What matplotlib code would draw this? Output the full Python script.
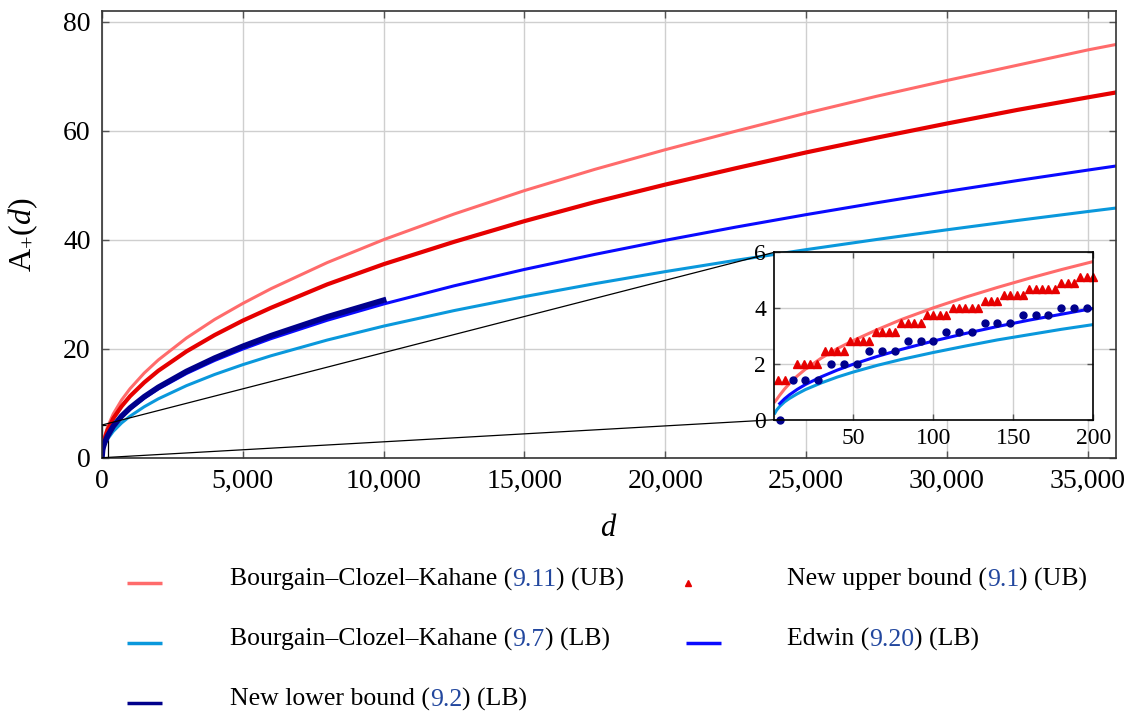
import matplotlib
matplotlib.use("Agg")
import matplotlib.pyplot as plt
from mpl_toolkits.axes_grid1.inset_locator import mark_inset

plt.rcParams['font.family'] = ['Liberation Serif', 'DejaVu Serif']
plt.rcParams['mathtext.fontset'] = 'custom'
plt.rcParams['mathtext.rm'] = 'Liberation Serif'
plt.rcParams['mathtext.it'] = 'Liberation Serif:italic'

# main plot: values
d_main = [0, 25, 50, 100, 200, 400, 700, 1000, 1500, 2000, 3000, 4000, 5000, 6000,
          8000, 10000, 12500, 15000, 17500, 20000, 22500, 25000, 27500, 30000,
          32500, 35000, 36000]
bck_ub = [0.5, 2.0, 2.84, 4.01, 5.67, 8.02, 10.61, 12.68, 15.53, 17.93, 21.96, 25.36,
          28.3, 31.0, 35.8, 40.0, 44.7, 49.0, 52.9, 56.5, 59.9, 63.2, 66.3,
          69.2, 72.0, 74.8, 75.8]
new_ub = [1.41, 1.79, 2.53, 3.58, 5.1, 7.2, 9.45, 11.3, 13.8, 15.95, 19.5, 22.5,
          25.15, 27.5, 31.8, 35.5, 39.6, 43.4, 46.9, 50.1, 53.1, 56.0, 58.7,
          61.3, 63.8, 66.1, 67.0]
bck_lb = [0.0, 1.21, 1.71, 2.41, 3.41, 4.83, 6.39, 7.63, 9.35, 10.80, 13.22, 15.27,
          17.07, 18.70, 21.59, 24.14, 26.99, 29.56, 31.93, 34.14, 36.21, 38.17, 40.03,
          41.81, 43.52, 45.16, 45.80]
edwin_lb = [None, 1.41, 1.99, 2.82, 3.99, 5.64, 7.46, 8.92, 10.92, 12.61, 15.45, 17.84,
            19.94, 21.84, 25.22, 28.20, 31.53, 34.54, 37.30, 39.88, 42.30, 44.59, 46.76,
            48.85, 50.84, 52.76, 53.51]
d_newlb = [0, 25, 50, 100, 200, 400, 700, 1000, 1500, 2000, 3000, 4000, 5000, 6000,
           8000, 10000]
new_lb = [0.0, 1.41, 2.0, 2.83, 4.0, 5.78, 7.65, 9.14, 11.19, 12.92, 15.83, 18.28,
          20.44, 22.39, 25.85, 28.9]

# inset: d from 1 to 200
d_zoom = [1, 2, 4, 7, 10, 15, 20, 30, 40, 50, 65, 80, 100, 120, 140, 160, 180, 200]
bck_ub_zoom = [0.65, 0.72, 0.88, 1.1, 1.29, 1.57, 1.81, 2.21, 2.55, 2.84, 3.23, 3.59,
               4.01, 4.39, 4.74, 5.07, 5.38, 5.67]
bck_lb_zoom = [0.24, 0.34, 0.48, 0.64, 0.76, 0.93, 1.08, 1.32, 1.53, 1.71, 1.95, 2.16,
               2.41, 2.64, 2.86, 3.05, 3.24, 3.41]
d_edwin_zoom = [4, 7, 10, 15, 20, 30, 40, 50, 65, 80, 100, 120, 140, 160, 180, 200]
edwin_zoom = [0.58, 0.75, 0.89, 1.09, 1.26, 1.54, 1.78, 1.99, 2.27, 2.52, 2.82, 3.09,
              3.34, 3.57, 3.78, 3.99]
d_ub_pts = [3, 7, 15, 19, 23, 27, 32, 36, 40, 44, 48, 52, 56, 60, 64, 68, 72, 76, 80,
            84, 88, 92, 96, 100, 104, 108, 112, 116, 120, 124, 128, 132, 136, 140, 144,
            148, 152, 156, 160, 164, 168, 172, 176, 180, 184, 188, 192, 196, 200]
ub_pts = [1.41, 1.41, 2.0, 2.0, 2.0, 2.0, 2.45, 2.45, 2.45, 2.45, 2.83, 2.83, 2.83, 2.83,
          3.16, 3.16, 3.16, 3.16, 3.46, 3.46, 3.46, 3.46, 3.74, 3.74, 3.74, 3.74,
          4.0, 4.0, 4.0, 4.0, 4.0, 4.24, 4.24, 4.24, 4.47, 4.47, 4.47, 4.47,
          4.69, 4.69, 4.69, 4.69, 4.69, 4.90, 4.90, 4.90, 5.10, 5.10, 5.10]
d_lb_pts = [4, 12, 20, 28, 36, 44, 52, 60, 68, 76, 84, 92, 100, 108, 116, 124, 132,
            140, 148, 156, 164, 172, 180, 188, 196]
lb_pts = [0.0, 1.41, 1.41, 1.41, 2.0, 2.0, 2.0, 2.45, 2.45, 2.45, 2.83, 2.83, 2.83,
          3.16, 3.16, 3.16, 3.46, 3.46, 3.46, 3.74, 3.74, 3.74, 4.0, 4.0, 4.0]

x_ticks = [0, 5000, 10000, 15000, 20000, 25000, 30000, 35000]
x_ticklabels = ["0", "5,000", "10,000", "15,000", "20,000", "25,000", "30,000", "35,000"]
y_ticks = [0, 20, 40, 60, 80]

c_pink = '#ff6b6b'
c_red = '#e60000'
c_cyan = '#0a98dc'
c_blue = '#0a0aff'
c_navy = '#00008c'
c_link = '#22479e'

fig = plt.figure(figsize=(11.34, 7.17), dpi=100)
ax = fig.add_axes([0.0899, 0.3616, 0.8942, 0.6235])

ax.plot(d_main, bck_ub, color=c_pink, lw=2.2)
ax.plot(d_main, new_ub, color=c_red, lw=3.0)
ax.plot(d_main, bck_lb, color=c_cyan, lw=2.2)
ax.plot(d_main, edwin_lb, color=c_blue, lw=2.2)
ax.plot(d_newlb, new_lb, color=c_navy, lw=4)

ax.set_xlim(0, 36000)
ax.set_ylim(0, 82)
ax.set_xticks(x_ticks)
ax.set_xticklabels(x_ticklabels)
ax.set_yticks(y_ticks)
ax.grid(True, color='#cfcfcf', lw=1)
ax.set_axisbelow(True)
ax.tick_params(direction='in', top=True, right=True, length=5, width=1,
               color='#555555', labelsize=20, pad=8)
for s in ax.spines.values():
    s.set_color('#333333')
    s.set_linewidth(1.2)
ax.set_xlabel('d', fontstyle='italic', fontsize=22)
ax.xaxis.set_label_coords(0.499, -0.125)
ax.set_ylabel(r'$\mathrm{A}_{+}(d)$', fontsize=23)
ax.yaxis.set_label_coords(-0.061, 0.5)

# zoomed inset
axins = fig.add_axes([0.6828, 0.4146, 0.2813, 0.2335])
axins.plot(d_zoom, bck_ub_zoom, color=c_pink, lw=2.2)
axins.plot(d_zoom, bck_lb_zoom, color=c_cyan, lw=2.2)
axins.plot(d_edwin_zoom, edwin_zoom, color=c_blue, lw=2.2)
axins.plot(d_ub_pts, ub_pts, ls='none', marker='^', ms=5.5, color=c_red, clip_on=False)
axins.plot(d_lb_pts, lb_pts, ls='none', marker='o', ms=5, color=c_navy, clip_on=False)
axins.set_xlim(0.6, 200)
axins.set_ylim(0, 6)
axins.set_xticks([50, 100, 150, 200])
axins.set_yticks([0, 2, 4, 6])
axins.grid(True, color='#cfcfcf', lw=1)
axins.set_axisbelow(True)
axins.tick_params(direction='in', top=True, right=True, length=4, width=1,
                  color='#555555', labelsize=17, pad=6)
for s in axins.spines.values():
    s.set_color('black')
    s.set_linewidth(1.2)
mark_inset(ax, axins, loc1=2, loc2=3, fc='none', ec='black', lw=0.9)

# legend built by hand (numbers are coloured like links)
W, H = 1134, 717
renderer = fig.canvas.get_renderer()
legend_entries = [
    (127, 583, 230, dict(color=c_pink, lw=2.5), ["Bourgain–Clozel–Kahane (", "9.11", ") (UB)"]),
    (686, 583, 787, dict(color=c_red, ls='none', marker='^', ms=5), ["New upper bound (", "9.1", ") (UB)"]),
    (127, 643, 230, dict(color=c_cyan, lw=2.5), ["Bourgain–Clozel–Kahane (", "9.7", ") (LB)"]),
    (686, 643, 787, dict(color=c_blue, lw=2.5), ["Edwin (", "9.20", ") (LB)"]),
    (127, 703, 230, dict(color=c_navy, lw=2.5), ["New lower bound (", "9.2", ") (LB)"]),
]
for hx, hy, tx, style, parts in legend_entries:
    if style.get('marker'):
        fig.add_artist(plt.Line2D([(hx + 2) / W], [1 - hy / H], transform=fig.transFigure, **style))
    else:
        fig.add_artist(plt.Line2D([hx / W, (hx + 35) / W], [1 - hy / H] * 2,
                                  transform=fig.transFigure, solid_capstyle='butt', **style))
    x = tx / W
    for i, part in enumerate(parts):
        t = fig.text(x, 1 - (hy + 3) / H, part, fontsize=18.5, va='baseline',
                     color=c_link if i == 1 else 'black')
        x = t.get_window_extent(renderer).x1 / W

fig.savefig('out.png', dpi=100)
